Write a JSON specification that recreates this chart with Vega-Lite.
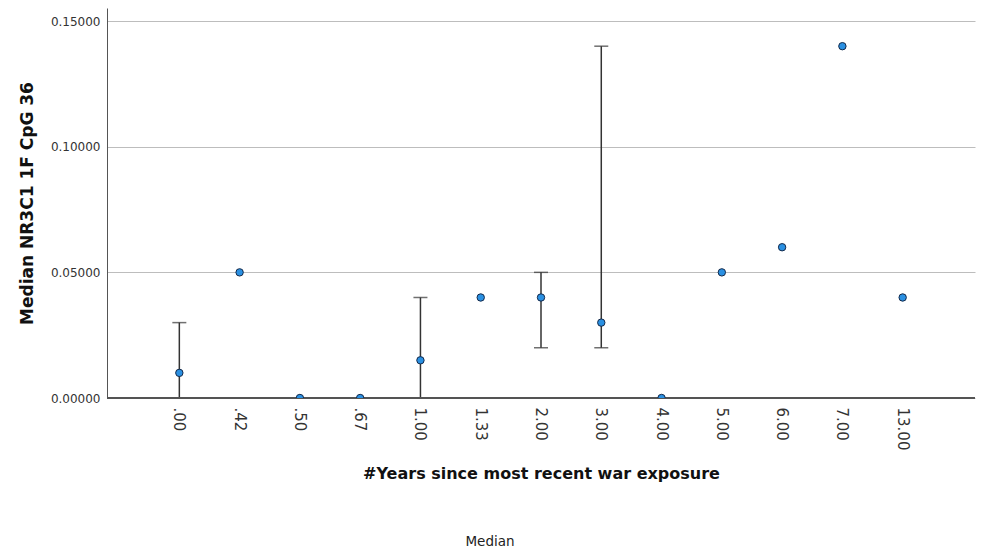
{
  "$schema": "https://vega.github.io/schema/vega-lite/v6.json",
  "width": 868,
  "height": 390,
  "autosize": {"type": "none"},
  "padding": {"left": 107, "top": 8, "right": 6, "bottom": 152},
  "background": "white",
  "title": {"text": "Median", "orient": "bottom", "anchor": "middle", "fontSize": 13.5, "fontWeight": "normal", "font": "DejaVu Sans", "color": "#222", "offset": 53, "dx": -51},
  "config": {
    "view": {"stroke": null},
    "axis": {"font": "DejaVu Sans", "labelFont": "DejaVu Sans", "titleFont": "DejaVu Sans"}
  },
  "data": {
    "values": [
      {"years": ".00", "median": 0.01, "lo": 0.0, "hi": 0.03},
      {"years": ".42", "median": 0.05},
      {"years": ".50", "median": 0.0},
      {"years": ".67", "median": 0.0},
      {"years": "1.00", "median": 0.015, "lo": 0.0, "hi": 0.04},
      {"years": "1.33", "median": 0.04},
      {"years": "2.00", "median": 0.04, "lo": 0.02, "hi": 0.05},
      {"years": "3.00", "median": 0.03, "lo": 0.02, "hi": 0.14},
      {"years": "4.00", "median": 0.0},
      {"years": "5.00", "median": 0.05},
      {"years": "6.00", "median": 0.06},
      {"years": "7.00", "median": 0.14},
      {"years": "13.00", "median": 0.04}
    ]
  },
  "encoding": {
    "x": {
      "field": "years", "type": "ordinal", "sort": null,
      "scale": {"type": "band", "paddingInner": 0, "paddingOuter": 0.7, "domain": [".00", ".42", ".50", ".67", "1.00", "1.33", "2.00", "3.00", "4.00", "5.00", "6.00", "7.00", "13.00"]},
      "axis": {
        "title": "#Years since most recent war exposure",
        "titleFontSize": 16, "titleFontWeight": "bold", "titleColor": "#111", "titlePadding": 16,
        "labelAngle": 90, "labelAlign": "left", "labelBaseline": "middle", "labelFontSize": 15, "labelColor": "#333", "labelPadding": 9,
        "ticks": false, "domain": false, "grid": false
      }
    }
  },
  "layer": [
    {
      "mark": {"type": "rule", "color": "#333", "strokeWidth": 1.5},
      "encoding": {
        "y": {
          "field": "lo", "type": "quantitative",
          "scale": {"domain": [0, 0.1552], "nice": false, "zero": true},
          "axis": {
            "title": "Median NR3C1 1F CpG 36",
            "titleFontSize": 17, "titleFontWeight": "bold", "titleColor": "#111", "titlePadding": 14,
            "values": [0, 0.05, 0.1, 0.15], "format": ".5f",
            "labelFontSize": 12, "labelColor": "#333", "labelPadding": 7,
            "ticks": false, "domainColor": "#555", "domainWidth": 1,
            "grid": true, "gridColor": "#bdbdbd", "gridWidth": 1
          }
        },
        "y2": {"field": "hi"}
      }
    },
    {
      "mark": {"type": "tick", "color": "#333", "thickness": 1.5, "size": 14},
      "encoding": {"y": {"field": "lo", "type": "quantitative"}}
    },
    {
      "mark": {"type": "tick", "color": "#333", "thickness": 1.5, "size": 14},
      "encoding": {"y": {"field": "hi", "type": "quantitative"}}
    },
    {
      "mark": {"type": "rule", "color": "#555", "strokeWidth": 1},
      "encoding": {"y": {"datum": 0, "type": "quantitative"}, "x": {"value": 0}, "x2": {"value": 868}}
    },
    {
      "mark": {"type": "point", "filled": true, "shape": "circle", "size": 55, "fill": "#2a90e2", "stroke": "#13294a", "strokeWidth": 1, "opacity": 1, "clip": true},
      "encoding": {"y": {"field": "median", "type": "quantitative"}}
    }
  ]
}
